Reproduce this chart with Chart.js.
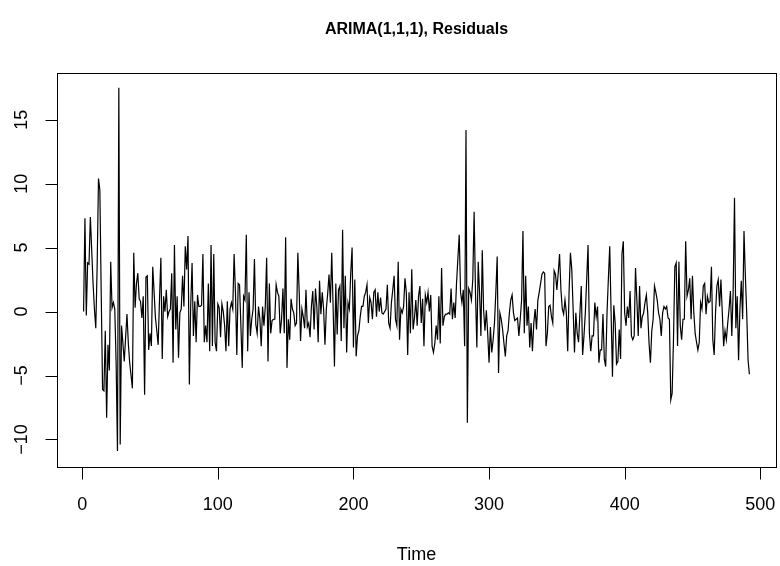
<!DOCTYPE html>
<html>
<head>
<meta charset="utf-8">
<script src="https://cdn.jsdelivr.net/npm/chart.js@4.4.1/dist/chart.umd.min.js"></script>
<style>
  html, body { margin: 0; padding: 0; background: #fff; }
  #wrap { width: 780px; height: 566px; }
</style>
</head>
<body>
<div id="wrap"><canvas id="resChart" width="780" height="566"></canvas></div>
<script>
const TITLE = "ARIMA(1,1,1), Residuals";
const X_LABEL = "Time";
const xTicks = [0, 100, 200, 300, 400, 500];
const yTicks = [-10, -5, 0, 5, 10, 15];

// residuals, t = 1..492
const residuals = [
  0, 7.3, -0.3, 3.8, 3.7, 7.4, 4.8, 2.2, 0.2, -1.3, 3.5, 10.4, 9.5, 1.5, -6.1, -6.2, -1.5, -8.3, -2.6, -4.6,
  3.9, 0.3, 0.7, 0.2, -4, -10.9, 17.5, -10.4, -1.1, -2.5, -3.9, -2, -0.2, -2.5, -4, -5, -6, 4.6, 0.3, 2.2,
  3, 1, 0.8, -0.5, 1.2, -6.5, 2.7, 2.8, -3, -1.7, -2.7, 3.5, 1.5, -0.5, -1.5, -2.6, 1, 4.2, -3.7, 1.2,
  0, 1.7, -0.4, 0, 0.2, 3, -4, 5.2, -1.4, 1.2, -3.6, -0.1, 0.2, 2.8, 0.4, 5.1, 3.3, 5.9, -5.7, 0.5,
  3.8, -1.9, 0.8, -2.4, 1.3, 0.4, 0.4, 0.5, 4.5, -2.4, -1.1, -2.4, 2.2, -3.1, 5.2, -2.7, 4.5, -2.4, -3.1, 0.6,
  0.3, -2, 0.6, 0, -1.1, -3.1, 0.8, -2.7, 0.2, 0.7, 0.2, 4.5, 1.5, -3.4, 2.2, 2.1, -1.1, -4.4, 1.2, 0.9,
  6, -3.1, 1.5, -1.9, -0.6, 0.2, 4.1, -1, -1.7, 0.4, -0.6, -2.7, 0.4, -1.1, 0.4, 4.2, -3.9, 2.2, -1.7, -0.7,
  -0.6, -0.6, 2.1, 1.5, 1.2, -1.7, -0.6, 1.8, -1.7, 5.8, -4.4, -0.6, -2.2, 1, 0.2, -0.1, -1.1, -0.9, 4.6, 1.5,
  -2.3, 0.2, -0.4, -1.3, 1.7, -1.2, -0.9, -2, 0.4, 1.6, -1.4, 1.8, 0.4, -2.4, 2.4, -0.2, 1.5, 0.2, -2.6, 0.2,
  1.4, 2.9, 0.7, 4.6, 0.4, -4.3, 2.2, -1.8, 1.7, 2, -2.3, 6.4, -1.3, 2.8, -3.2, 0.7, 0.2, 3, 5, -2.8,
  2.5, -3.5, -1.9, -1.5, -0.4, 0.4, 0.4, 1.2, 1.5, 2.1, -0.9, 1.1, 0.7, -0.6, 1.5, 1.7, -0.4, 1.5, 0, 1.1,
  -0.1, -0.2, 0, 0.2, 2.1, -0.9, -1.3, 0.7, 1.7, 2.8, -0.6, -1.1, 3.9, -2.2, 0.2, -0.1, 0.4, 2.6, 1.5, -3.4,
  1.5, -1.7, 3.3, -1.4, -0.5, 0.9, -1.1, 1.2, 2, -0.9, 1, -2.7, 1.3, 0.7, 1.5, 0, 1.3, -2.7, -3.2, -2.5,
  -1.1, -2.2, 1.2, -2.5, 3.4, -1.1, -0.4, -0.2, -0.2, -0.1, -0.2, 1.8, -0.6, 0.7, -0.5, 2.2, 4.1, 6, 1.5, 0.7,
  1.7, -2.7, 14.2, -8.7, 1.8, 1.5, 0.9, 2.5, 7.8, 1.5, -2.8, 3.9, 1.5, -1.9, 4.8, 0.1, -1.5, 0.1, -1.7, -4,
  -1.2, -3.2, -2.2, -0.9, 1.5, 4.3, -4.8, -0.1, -0.6, -1.4, -2.5, -3.5, -1.9, -1.5, -0.1, 0.9, 1.3, -0.1, -0.7, -0.6,
  -0.5, -1.9, -0.6, 0.9, 6.3, -1.7, 2.8, -1.1, 0.4, -2.8, -0.9, -3.1, -0.9, 0.2, -1.4, 0.9, 1.5, 2.2, 2.9, 3.1,
  3, -2.7, -1.7, 0.4, 0.5, -0.4, -0.9, 3.2, 2.9, 1.7, 3, 4.5, 1.7, 0.2, -0.2, 0.9, -0.1, -3.1, 1.5, 4.6,
  3.3, 0.2, -3.2, -0.1, -1.7, -2.4, -0.1, 2, -3.4, -1.9, -0.1, 2.5, 5.2, -1.7, -3.1, -1.9, -1.9, 0.7, -0.4, 0.4,
  -4, -3, -3, -0.2, -3.7, -4.3, -0.1, 2.6, 5.1, -0.1, -5.1, 0.5, -0.9, -4.1, -3.9, -1.4, -3.7, 4.5, 5.5, -0.1,
  -1.1, 0.4, -0.5, 1.6, -1.9, -2.2, -1.9, 3.4, 0.9, -1.9, 2, -1.3, -0.4, -0.1, 0.7, 1.3, -0.1, -2.5, -4, -1.5,
  -0.6, 2, 1.5, 0.9, -0.1, -0.6, -1.9, -0.1, 0.4, 0.2, 0.4, -0.5, -0.6, -6.9, -6.4, -2.2, 3.5, 3.8, -2.7, 3.9,
  -1.1, -2.2, -0.6, -0.6, 5.5, 1.2, 1.7, 2.6, -0.6, 2.8, -0.1, -1.7, -2.4, -3, -2.4, 0.7, 0.2, 2, 2.2, -0.2,
  1.2, 0.7, 0.8, 3.5, -2.2, -3.4, -0.1, 2, 2.5, 0.4, 2.5, -0.1, -2.7, -1.5, -2.2, -0.9, 0.2, 1.6, -1.9, 1.5,
  8.9, -1.3, 1.2, -3.8, 0.2, 2.4, -0.6, 6.3, 2.8, -0.1, -3.8, -4.9
];

const FONT = '"Liberation Sans", Arial, Helvetica, sans-serif';

// R-style frame, axes, tick labels and titles
const rAxesPlugin = {
  id: "rAxes",
  afterDraw(chart) {
    const { ctx, chartArea: { left, right, top, bottom }, scales: { x, y } } = chart;
    ctx.save();
    ctx.strokeStyle = "#000";
    ctx.fillStyle = "#000";
    ctx.lineWidth = 1;

    // box
    ctx.strokeRect(Math.round(left) + 0.5, Math.round(top) + 0.5,
      Math.round(right - left), Math.round(bottom - top));

    const tick = 12;
    ctx.font = "18px " + FONT;

    // x axis
    const by = Math.round(bottom) + 0.5;
    ctx.beginPath();
    ctx.moveTo(x.getPixelForValue(xTicks[0]), by);
    ctx.lineTo(x.getPixelForValue(xTicks[xTicks.length - 1]), by);
    xTicks.forEach((v) => {
      const px = Math.round(x.getPixelForValue(v)) + 0.5;
      ctx.moveTo(px, by);
      ctx.lineTo(px, by + tick);
    });
    ctx.stroke();
    ctx.textAlign = "center";
    ctx.textBaseline = "middle";
    xTicks.forEach((v) => ctx.fillText(String(v), x.getPixelForValue(v), 505));

    // y axis
    const lx = Math.round(left) + 0.5;
    ctx.beginPath();
    ctx.moveTo(lx, y.getPixelForValue(yTicks[0]));
    ctx.lineTo(lx, y.getPixelForValue(yTicks[yTicks.length - 1]));
    yTicks.forEach((v) => {
      const py = Math.round(y.getPixelForValue(v)) + 0.5;
      ctx.moveTo(lx, py);
      ctx.lineTo(lx - tick, py);
    });
    ctx.stroke();
    yTicks.forEach((v) => {
      ctx.save();
      ctx.translate(22, y.getPixelForValue(v));
      ctx.rotate(-Math.PI / 2);
      ctx.fillText(v < 0 ? "\u2212" + Math.abs(v) : String(v), 0, 0);
      ctx.restore();
    });

    // titles
    ctx.fillText(X_LABEL, (left + right) / 2, 555);
    ctx.font = "bold 16px " + FONT;
    ctx.fillText(TITLE, (left + right) / 2, 30);
    ctx.restore();
  },
};

new Chart(document.getElementById("resChart"), {
  type: "line",
  data: {
    datasets: [{
      data: residuals.map((v, i) => ({ x: i + 1, y: v })),
      borderColor: "#000",
      borderWidth: 1.2,
      pointRadius: 0,
      tension: 0,
      fill: false,
    }],
  },
  options: {
    responsive: false,
    animation: false,
    devicePixelRatio: 1,
    parsing: false,
    layout: { padding: { left: 57, right: 4, top: 73, bottom: 99 } },
    plugins: { legend: { display: false }, tooltip: { enabled: false } },
    scales: {
      x: { type: "linear", display: false, min: -18.6, max: 511.6 },
      y: { type: "linear", display: false, min: -12.15, max: 18.65 },
    },
  },
  plugins: [rAxesPlugin],
});
</script>
</body>
</html>
